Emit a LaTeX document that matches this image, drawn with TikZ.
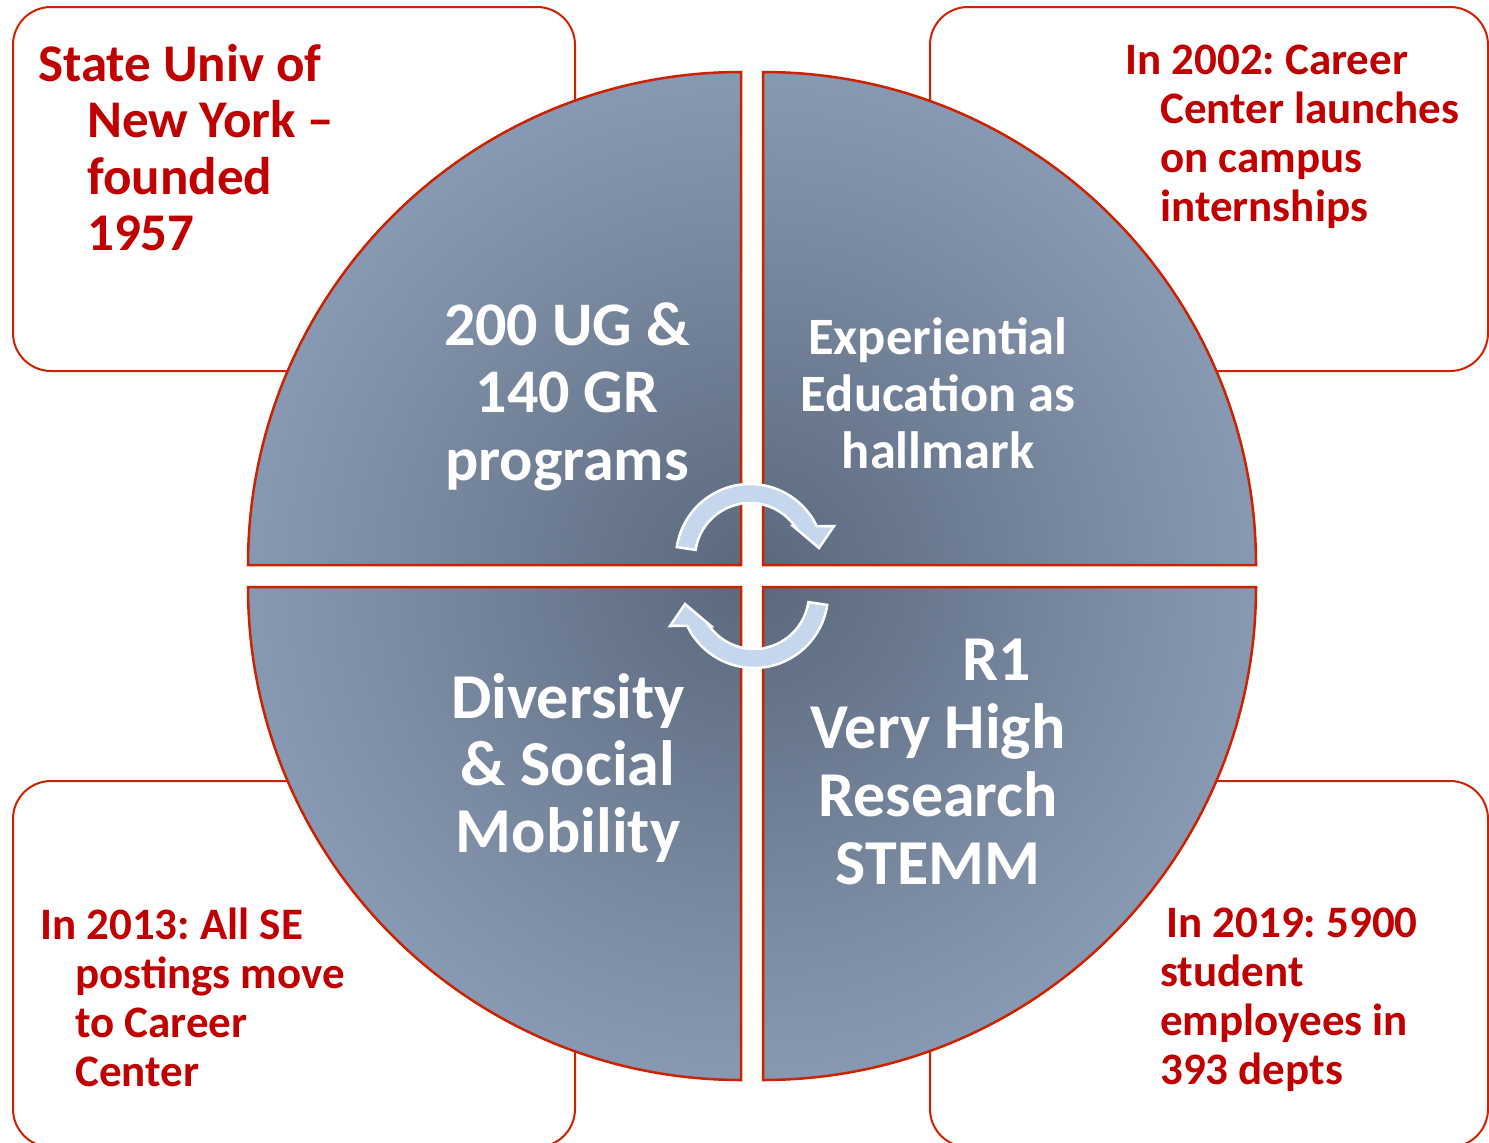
\documentclass[tikz,border=0pt]{standalone}
\usepackage{fontspec}
\setmainfont{Carlito}
\frenchspacing
\definecolor{qin}{RGB}{90,104,124}
\definecolor{qout}{RGB}{136,154,179}
\definecolor{redline}{RGB}{204,34,0}
\definecolor{redtext}{RGB}{192,0,0}
\definecolor{arrowfill}{RGB}{197,215,237}
\begin{document}
\frenchspacing
\begin{tikzpicture}[x=1pt,y=-1pt]
\tikzset{
  infobox/.style={draw=redline, line width=2pt, fill=white, rounded corners=38pt},
  quadline/.style={draw=redline, line width=2.5pt},
  arrowshape/.style={fill=arrowfill, draw=white, line width=2.5pt, line join=miter},
  redtxt/.style={text=redtext, font=\bfseries\fontsize{45}{49}\selectfont, align=left, inner sep=0pt, anchor=north west},
  quadtxt/.style={text=white, font=\bfseries\fontsize{62}{67.5}\selectfont, align=center, inner sep=0pt, anchor=north},
}
\useasboundingbox (0,0) rectangle (1489,1143);
\fill[white] (0,0) rectangle (1489,1143);

% info boxes
\draw[infobox] (13,7) rectangle (575,371);
\draw[infobox] (930,7) rectangle (1488,371);
\draw[infobox] (13,781) rectangle (575,1147);
\draw[infobox] (930,781) rectangle (1488,1147);

% quadrants
\begin{scope}
  \clip (741,565) -- (248,565) arc[start angle=180, end angle=270, radius=493] -- cycle;
  \shade[inner color=qin, outer color=qout] (752,576) circle[radius=512pt];
\end{scope}
\draw[quadline] (741,565) -- (248,565) arc[start angle=180, end angle=270, radius=493] -- cycle;

\begin{scope}
  \clip (763,565) -- (763,72) arc[start angle=270, end angle=360, radius=493] -- cycle;
  \shade[inner color=qin, outer color=qout] (752,576) circle[radius=512pt];
\end{scope}
\draw[quadline] (763,565) -- (763,72) arc[start angle=270, end angle=360, radius=493] -- cycle;

\begin{scope}
  \clip (763,587) -- (1256,587) arc[start angle=0, end angle=90, radius=493] -- cycle;
  \shade[inner color=qin, outer color=qout] (752,576) circle[radius=512pt];
\end{scope}
\draw[quadline] (763,587) -- (1256,587) arc[start angle=0, end angle=90, radius=493] -- cycle;

\begin{scope}
  \clip (741,587) -- (741,1080) arc[start angle=90, end angle=180, radius=493] -- cycle;
  \shade[inner color=qin, outer color=qout] (752,576) circle[radius=512pt];
\end{scope}
\draw[quadline] (741,587) -- (741,1080) arc[start angle=90, end angle=180, radius=493] -- cycle;

% circular arrows
\draw[arrowshape] (676.8,547.1) arc[start angle=188.5, end angle=334.4, radius=74]
  -- (834,526) -- (819,548) -- (793,526) -- (794.7,526)
  arc[start angle=324.4, end angle=188.5, radius=55] -- cycle;
\begin{scope}[rotate around={180:(752,576)}]
\draw[arrowshape] (676.8,547.1) arc[start angle=188.5, end angle=334.4, radius=74]
  -- (834,526) -- (819,548) -- (793,526) -- (794.7,526)
  arc[start angle=324.4, end angle=188.5, radius=55] -- cycle;
\end{scope}

% quadrant texts
\node[quadtxt] (ug) at (567,302) {200 UG \&\\140 GR\\programs};
\node[quadtxt, font=\bfseries\fontsize{52.5}{57}\selectfont] (exp) at (938,317) {Experiential\\Education as\\hallmark};
\node[quadtxt, font=\bfseries\fontsize{64}{67}\selectfont] (div) at (568,673) {Diversity\\\& Social\\Mobility};
\node[quadtxt, font=\bfseries\fontsize{64}{68}\selectfont] (r1) at (938,639) {\hspace*{118pt}R1\\Very High\\Research\\STEMM};

% info texts
\node[redtxt, font=\bfseries\fontsize{53}{56.5}\selectfont] (suny) at (38,44) {State Univ of\\\hspace*{49pt}New York –\\\hspace*{49pt}founded\\\hspace*{49pt}1957};
\node[redtxt] (y2002) at (1125,45) {In 2002: Career\\\hspace*{35pt}Center launches\\\hspace*{35pt}on campus\\\hspace*{35pt}internships};
\node[redtxt] (y2013) at (40,908) {In 2013: All SE\\\hspace*{35pt}postings move\\\hspace*{35pt}to Career\\\hspace*{35pt}Center};
\node[redtxt] (y2019) at (1160,908) {\hspace*{6pt}In 2019: 5900\\student\\employees in\\393 depts};
\end{tikzpicture}
\end{document}
